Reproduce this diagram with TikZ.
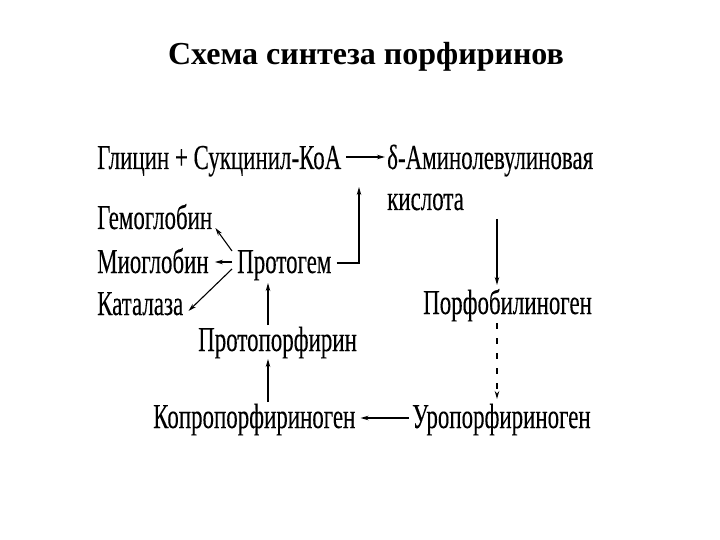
\documentclass[tikz,border=0pt]{standalone}
\usepackage{fontspec}
\setmainfont{Liberation Serif}
\newfontfamily\cond[FakeStretch=0.655,FakeBold=0.15]{Liberation Serif}
\usetikzlibrary{arrows.meta,calc}
\begin{document}
\begin{tikzpicture}[x=1pt,y=-1pt,
  lbl/.style={inner sep=0pt, anchor=base west, font=\cond\fontsize{35}{40}\selectfont},
  arr/.style={-{Stealth[length=8pt,width=4.5pt]}, line width=1.1pt},
  dsh/.style={dash pattern=on 6pt off 9pt}]
\useasboundingbox[fill=white] (0,0) rectangle (720,540);
\node[font=\bfseries\fontsize{32}{36}\selectfont, anchor=base, inner sep=0pt] (title) at (366,65) {Схема синтеза порфиринов};
\node[lbl] (glic) at (97,169) {Глицин + Сукцинил-КоА};
\node[lbl] (ala) at (387,169) {δ-Аминолевулиновая};
\node[lbl] (kisl) at (387,210) {кислота};
\node[lbl] (gemo) at (97,229) {Гемоглобин};
\node[lbl] (mio) at (97,273) {Миоглобин};
\node[lbl] (protogem) at (237,273) {Протогем};
\node[lbl] (kat) at (97,315) {Каталаза};
\node[lbl] (porfo) at (423,314) {Порфобилиноген};
\node[lbl] (protopor) at (198,351) {Протопорфирин};
\node[lbl] (copro) at (153,428) {Копропорфириноген};
\node[lbl] (uro) at (412,428) {Уропорфириноген};
\coordinate (uptip) at ($(ala.base west)+(-28,18)$);
\draw[arr] ($(glic.base east)+(5,-12)$) -- ($(ala.base west)+(-2,-12)$);
\draw[arr] ($(protogem.base east)+(5,-10)$) -| (uptip);
\draw[arr] ($(kisl.base west)+(110,9)$) -- ($(porfo.base west)+(74,-29)$);
\draw[arr,dsh] ($(porfo.base west)+(74,9)$) -- ($(uro.base west)+(85,-29)$);
\draw[arr] ($(uro.base west)+(-3,-10)$) -- ($(copro.base east)+(5,-10)$);
\draw[arr] ($(copro.base west)+(115,-26)$) -- ($(protopor.base west)+(70,8)$);
\draw[arr] ($(protopor.base west)+(70,-26)$) -- ($(protogem.base west)+(31,10)$);
\draw[arr] ($(protogem.base west)+(-5,-22)$) -- ($(gemo.base east)+(3,-1)$);
\draw[arr] ($(protogem.base west)+(-5,-11)$) -- ($(mio.base east)+(6,-11)$);
\draw[arr] ($(protogem.base west)+(-5,-4)$) -- ($(kat.base east)+(5,-4)$);
\end{tikzpicture}
\end{document}
